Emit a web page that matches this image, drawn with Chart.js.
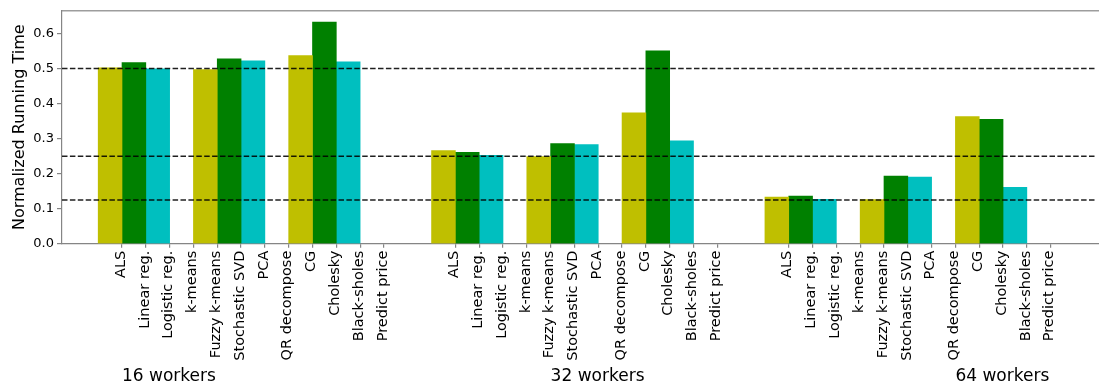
<!DOCTYPE html>
<html lang="en-US">
<head>
    <meta charset="utf-8">
    <title>Normalized Running Time</title>
    <script src="https://cdn.jsdelivr.net/npm/chart.js@4/dist/chart.umd.min.js"></script>
    <style>
        body { margin: 0; background: #fff; overflow: hidden; }
        #wrap { width: 1099px; height: 383px; }
    </style>
</head>
<body>
<div id="wrap"><canvas id="chart-0" width="1099" height="383"></canvas></div>

<script>
    // tick labels, repeated once per worker group
    var categories = ['ALS', 'Linear reg.', 'Logistic reg.', 'k-means', 'Fuzzy k-means',
        'Stochastic SVD', 'PCA', 'QR decompose', 'CG', 'Cholesky', 'Black-sholes', 'Predict price'];
    var groups = ['16 workers', '32 workers', '64 workers'];

    // three bars per triple, three triples per group (16, 32, 64 workers)
    var olive = [0.502, 0.497, 0.537, 0.266, 0.249, 0.374, 0.133, 0.126, 0.363];
    var green = [0.517, 0.528, 0.633, 0.261, 0.286, 0.551, 0.136, 0.193, 0.355];
    var cyan  = [0.499, 0.522, 0.519, 0.252, 0.283, 0.294, 0.127, 0.190, 0.161];

    var refLines = [0.5, 0.25, 0.125];

    var groupStride = 14;        // 12 ticks + 2 empty slots between groups
    var captionTick = [0, 4, 7]; // tick where each group caption starts

    var tickValues = [];
    for (var g = 0; g < groups.length; g++) {
        for (var i = 0; i < categories.length; i++) {
            tickValues.push(g * groupStride + i);
        }
    }

    // bar k of a triple sits between ticks (4t + k - 1) and (4t + k)
    function barPoints(values, k) {
        var pts = [];
        for (var n = 0; n < values.length; n++) {
            var grp = Math.floor(n / 3), t = n % 3;
            pts.push({ x: grp * groupStride + t * 4 + k - 0.5, y: values[n] });
        }
        return pts;
    }

    function series(values, k, color) {
        return {
            data: barPoints(values, k),
            backgroundColor: color,
            borderWidth: 0,
            grouped: false,
            barPercentage: 1,
            categoryPercentage: 1
        };
    }

    var spine = '#858585';
    var font = 'DejaVu Sans';

    var overlay = {
        id: 'overlay',
        afterDatasetsDraw: function (chart) {
            var ctx = chart.ctx, area = chart.chartArea, ys = chart.scales.y;
            ctx.save();
            ctx.strokeStyle = 'rgba(0,0,0,0.88)';
            ctx.lineWidth = 1.5;
            ctx.setLineDash([5.5, 2.4]);
            refLines.forEach(function (v) {
                var py = ys.getPixelForValue(v);
                ctx.beginPath();
                ctx.moveTo(area.left, py);
                ctx.lineTo(area.right, py);
                ctx.stroke();
            });
            ctx.restore();
        },
        afterDraw: function (chart) {
            var ctx = chart.ctx, xs = chart.scales.x, area = chart.chartArea;
            ctx.save();
            // the plot runs off the right edge: keep that side open
            ctx.fillStyle = '#fff';
            ctx.fillRect(area.right - 3, area.top + 1, 3, area.bottom - area.top - 2);
            // top spine
            ctx.fillStyle = spine;
            ctx.fillRect(area.left, area.top - 0.6, area.right - area.left, 1.2);
            // group captions under the tick labels
            ctx.fillStyle = '#000';
            ctx.font = '17px "' + font + '"';
            ctx.textAlign = 'left';
            ctx.textBaseline = 'alphabetic';
            groups.forEach(function (name, g) {
                ctx.fillText(name, xs.getPixelForValue(g * groupStride + captionTick[g]), 381);
            });
            ctx.restore();
        }
    };

    var chart = new Chart('chart-0', {
        type: 'bar',
        data: {
            datasets: [
                series(olive, 0, '#bfbf00'),
                series(green, 1, '#008000'),
                series(cyan, 2, '#00bfbf')
            ]
        },
        options: {
            responsive: false,
            animation: false,
            devicePixelRatio: 1,
            layout: { padding: { top: 10, right: 0, bottom: 0, left: 0 } },
            plugins: { legend: { display: false }, tooltip: { enabled: false } },
            scales: {
                x: {
                    type: 'linear',
                    offset: false,
                    min: -2.52,
                    max: 41.03,
                    grid: { display: true, drawOnChartArea: false, offset: false, tickLength: 4, color: spine, lineWidth: 1.2 },
                    border: { display: true, color: spine, width: 1.2 },
                    afterBuildTicks: function (scale) {
                        scale.ticks = tickValues.map(function (v) { return { value: v }; });
                    },
                    afterFit: function (scale) { scale.height = 139.3; },
                    ticks: {
                        autoSkip: false,
                        minRotation: 90,
                        maxRotation: 90,
                        padding: 3,
                        labelOffset: -1,
                        color: '#000',
                        font: { family: font, size: 14.5 },
                        callback: function (v) {
                            return categories[((v % groupStride) + groupStride) % groupStride];
                        }
                    }
                },
                y: {
                    min: 0,
                    max: 0.665,
                    grid: { display: true, drawOnChartArea: false, tickLength: 5, color: spine, lineWidth: 1.2 },
                    border: { display: true, color: spine, width: 1.2 },
                    afterFit: function (scale) { scale.width = 62; },
                    title: {
                        display: true,
                        text: 'Normalized Running Time',
                        color: '#000',
                        font: { family: font, size: 16 },
                        padding: { top: 10, bottom: 0 }
                    },
                    ticks: {
                        stepSize: 0.1,
                        includeBounds: false,
                        padding: 3,
                        color: '#000',
                        font: { family: font, size: 13 },
                        callback: function (v) { return v.toFixed(1); }
                    }
                }
            }
        },
        plugins: [overlay]
    });
</script>
</body>
</html>
